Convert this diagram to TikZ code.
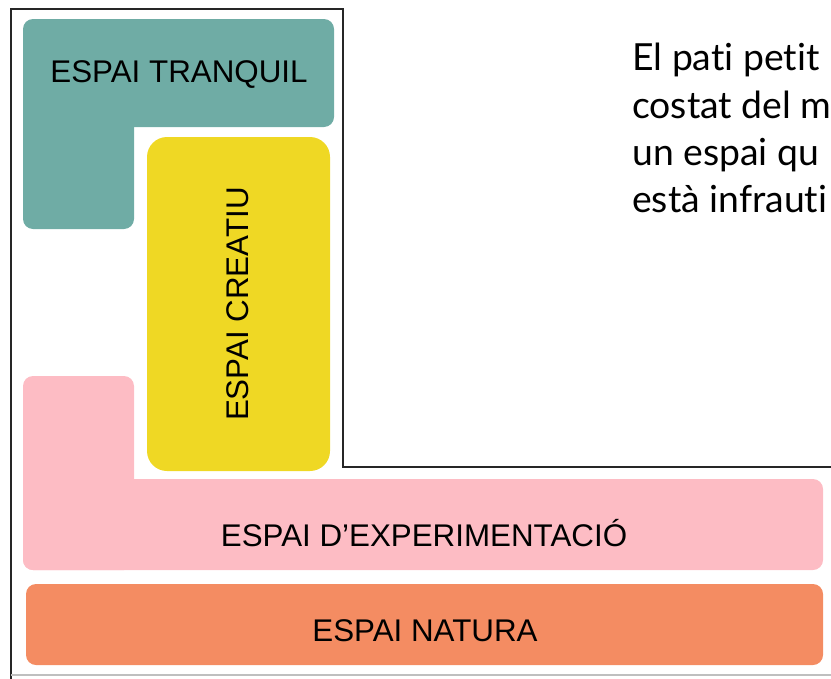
\documentclass[tikz,border=0pt]{standalone}
\usepackage{fontspec}
\setmainfont{Liberation Sans}
\newfontfamily\notefont[Ligatures=NoCommon]{Lato}
\usepackage{xcolor}
\usepackage{tikz}
\definecolor{tranquilcol}{HTML}{6FACA5}
\definecolor{creatiucol}{HTML}{EFD824}
\definecolor{expercol}{HTML}{FDBCC4}
\definecolor{naturacol}{HTML}{F48C62}
\tikzstyle{zone} = [rounded corners=7.5pt]
\tikzstyle{zonetext} = [font=\fontsize{23.5}{28}\selectfont, text=black, inner sep=0pt]
\tikzstyle{wall} = [line width=2pt, draw=black!85]
\tikzstyle{note} = [font=\notefont\fontsize{28}{35.5}\selectfont, align=left, anchor=north west, inner sep=0pt]

\begin{document}
\begin{tikzpicture}[x=0.75pt,y=-0.75pt]
        \useasboundingbox (0,0) rectangle (831,678);
        \clip (0,0) rectangle (831,678);
        \fill [zone, tranquilcol] (23,19) rectangle (334,127);
        \fill [zone, tranquilcol] (23,80) rectangle (134,229);
        \fill [zone, creatiucol, rounded corners=15pt] (147,137) rectangle (330,471);
        \fill [zone, expercol] (23,376) rectangle (134,570);
        \fill [zone, expercol] (23,479) rectangle (823,570);
        \fill [zone, naturacol] (26,584) rectangle (823,665);
        \draw [wall] (11,690) -- (11,9) -- (343,9) -- (343,467) -- (840,467);
        \draw [black!25, line width=1pt] (11,675) -- (840,675);
        \node (tranquil) [zonetext] at (179,75) {ESPAI TRANQUIL};
        \node (creatiu) [zonetext, rotate=90] at (238,304) {ESPAI CREATIU};
        \node (exper) [zonetext] at (424,533) {ESPAI D’EXPERIMENTACIÓ};
        \node (natura) [zonetext] at (425,631) {ESPAI NATURA};
        \node (text) [note] at (632,43) {El pati petit\\costat del m\\un espai qu\\està infrauti};
    \end{tikzpicture}
\end{document}
